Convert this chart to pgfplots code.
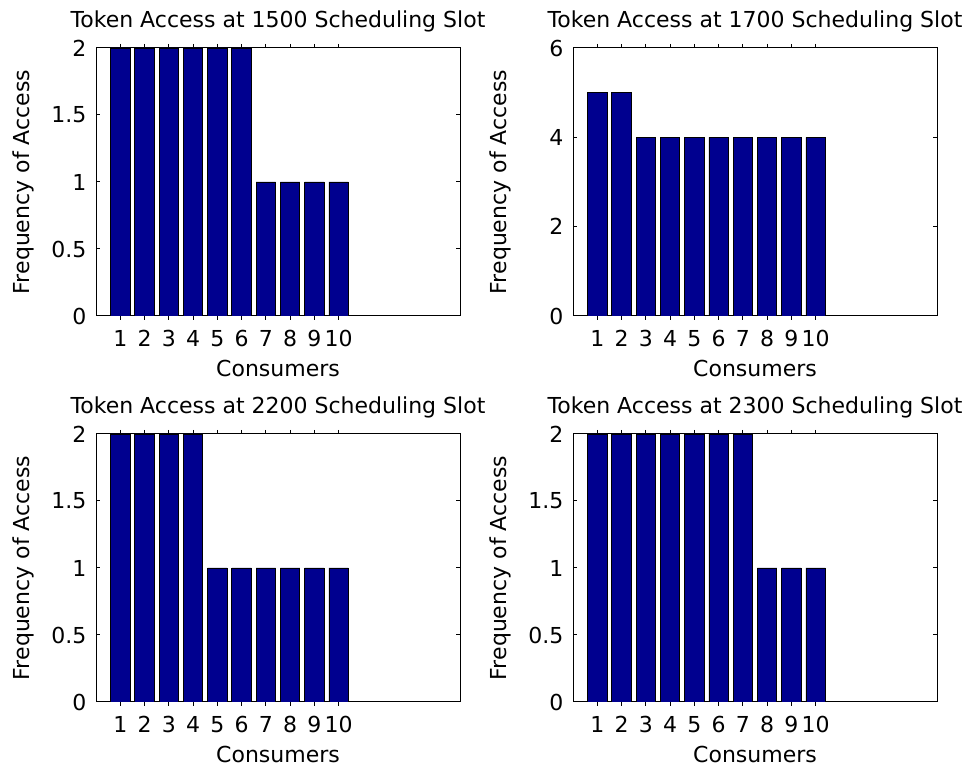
\documentclass[border=0pt]{standalone}
\usepackage{pgfplots}
\pgfplotsset{compat=1.18}
\usepackage{fontspec}
\setmainfont{DejaVu Sans}
\definecolor{barblue}{RGB}{0,0,143}
\newcommand{\chartfont}{\fontsize{16.5}{20}\selectfont}
\pgfplotsset{
  tokenplot/.style={
    scale only axis, width=273pt, height=201pt,
    anchor=south west,
    xmin=0, xmax=15, ymin=0,
    xtick={1,...,10},
    tick align=inside, tick pos=both,
    major tick length=3pt,
    axis line style={line width=0.75pt},
    every tick/.style={line width=0.75pt, black},
    ybar, bar width=0.8,
    /pgf/number format/assume math mode=true,
    tick label style={font=\chartfont},
    label style={font=\chartfont},
    title style={font=\chartfont},
    xticklabel style={anchor=base, yshift=-20.25pt},
    yticklabel style={anchor=east, inner sep=0pt, xshift=-7pt},
    xlabel=Consumers, ylabel=Frequency of Access,
    xlabel style={at={(axis description cs:0.5,-0.2276)}, anchor=base},
    ylabel style={at={(axis description cs:-0.184,0.5)}, anchor=base},
    every axis title shift=0pt,
    title style={at={(axis description cs:0.5,1)}, anchor=base, yshift=15pt},
  },
  tokenbars/.style={fill=barblue, draw=black, line width=0.6pt},
}
\begin{document}
\begin{tikzpicture}
\path[use as bounding box] (0,0) rectangle (730.5pt,577.5pt);

\begin{axis}[tokenplot, at={(72pt,340.5pt)}, ymax=2, ytick={0,0.5,...,2},
  title=Token Access at 1500 Scheduling Slot]
\addplot[tokenbars] coordinates {(1,2) (2,2) (3,2) (4,2) (5,2) (6,2) (7,1) (8,1) (9,1) (10,1)};
\end{axis}

\begin{axis}[tokenplot, at={(429.75pt,340.5pt)}, ymax=6, ytick={0,2,4,6},
  title=Token Access at 1700 Scheduling Slot]
\addplot[tokenbars] coordinates {(1,5) (2,5) (3,4) (4,4) (5,4) (6,4) (7,4) (8,4) (9,4) (10,4)};
\end{axis}

\begin{axis}[tokenplot, at={(72pt,51pt)}, ymax=2, ytick={0,0.5,...,2},
  title=Token Access at 2200 Scheduling Slot]
\addplot[tokenbars] coordinates {(1,2) (2,2) (3,2) (4,2) (5,1) (6,1) (7,1) (8,1) (9,1) (10,1)};
\end{axis}

\begin{axis}[tokenplot, at={(429.75pt,51pt)}, ymax=2, ytick={0,0.5,...,2},
  title=Token Access at 2300 Scheduling Slot]
\addplot[tokenbars] coordinates {(1,2) (2,2) (3,2) (4,2) (5,2) (6,2) (7,2) (8,1) (9,1) (10,1)};
\end{axis}
\end{tikzpicture}
\end{document}
